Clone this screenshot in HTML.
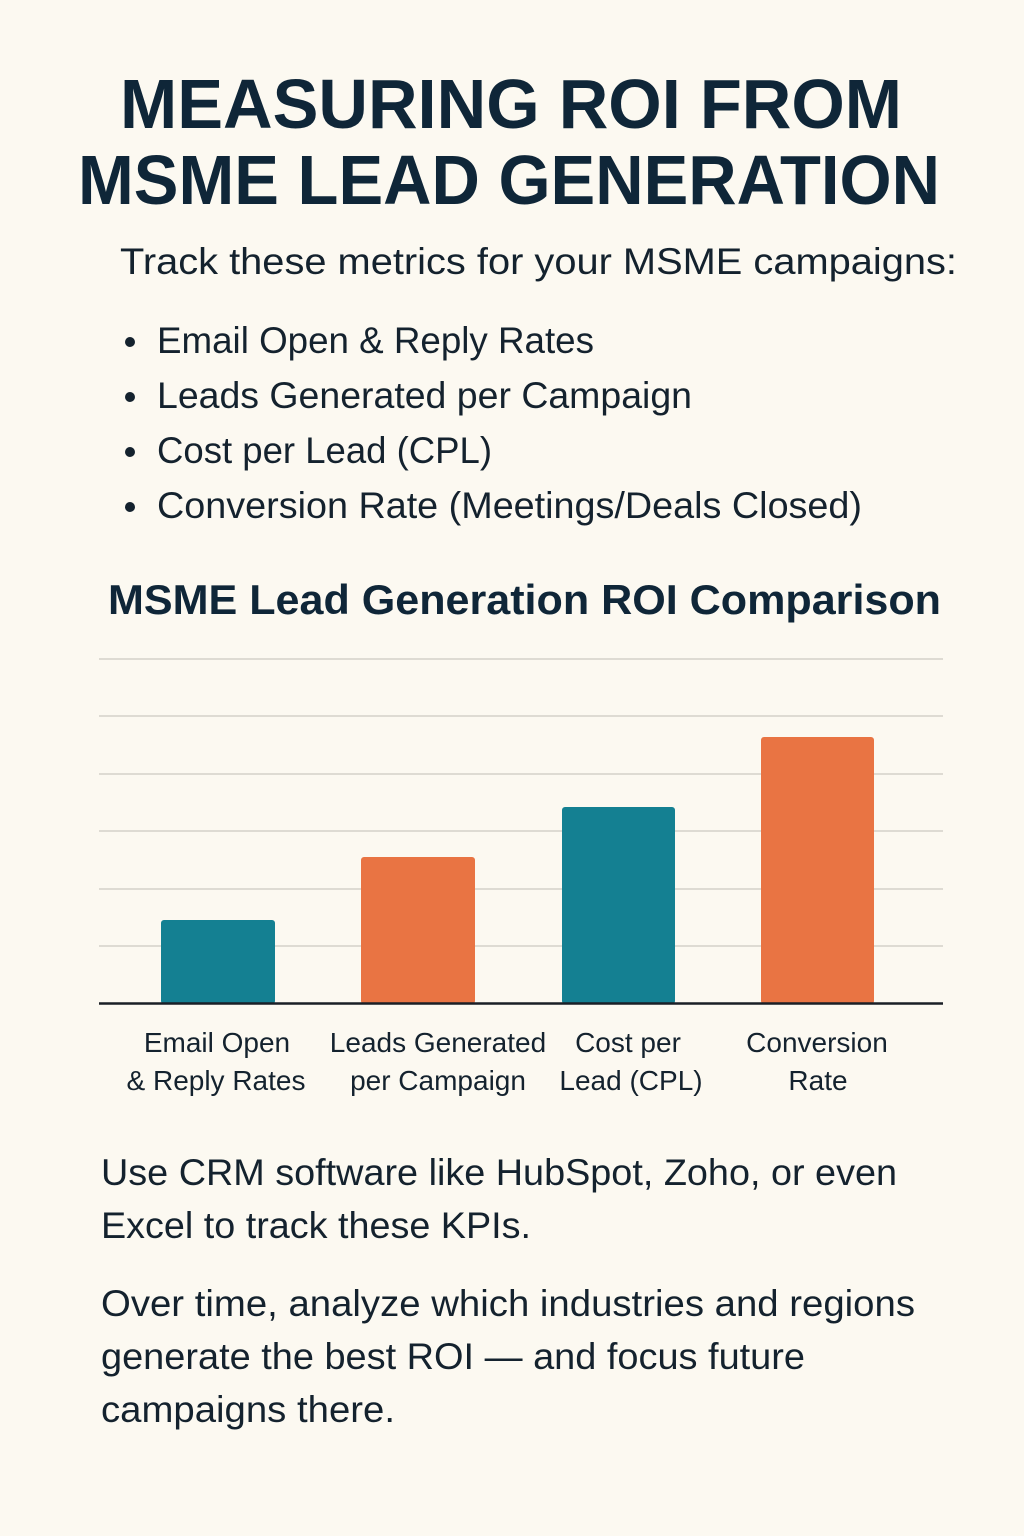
<!DOCTYPE html>
<html><head><meta charset="utf-8"><style>
html,body{margin:0;padding:0;background:#fcf9f1;}
svg{display:block;}
text{font-family:"Liberation Sans","DejaVu Sans",sans-serif;}
</style></head><body>
<svg width="1024" height="1536" viewBox="0 0 1024 1536" xmlns="http://www.w3.org/2000/svg">
<rect width="1024" height="1536" fill="#fcf9f1"/>
<g fill="#0f2638" font-weight="bold" font-size="70">
<text x="120" y="128" textLength="782" lengthAdjust="spacingAndGlyphs">MEASURING ROI FROM</text>
<text x="78" y="204" textLength="862" lengthAdjust="spacingAndGlyphs">MSME LEAD GENERATION</text>
</g>
<g fill="#14222e" font-size="37">
<text x="120" y="274" textLength="837" lengthAdjust="spacingAndGlyphs">Track these metrics for your MSME campaigns:</text>
<circle cx="130" cy="342" r="5"/><text x="157" y="353" textLength="437" lengthAdjust="spacingAndGlyphs">Email Open &amp; Reply Rates</text>
<circle cx="130" cy="397" r="5"/><text x="157" y="408" textLength="535" lengthAdjust="spacingAndGlyphs">Leads Generated per Campaign</text>
<circle cx="130" cy="452" r="5"/><text x="157" y="463" textLength="335" lengthAdjust="spacingAndGlyphs">Cost per Lead (CPL)</text>
<circle cx="130" cy="507" r="5"/><text x="157" y="518" textLength="705" lengthAdjust="spacingAndGlyphs">Conversion Rate (Meetings/Deals Closed)</text>
</g>
<text x="108" y="614" fill="#0f2638" font-weight="bold" font-size="42" textLength="833" lengthAdjust="spacingAndGlyphs">MSME Lead Generation ROI Comparison</text>
<g stroke="#dedbd3" stroke-width="2">
<line x1="99" x2="943" y1="659" y2="659"/><line x1="99" x2="943" y1="716" y2="716"/>
<line x1="99" x2="943" y1="774" y2="774"/><line x1="99" x2="943" y1="831" y2="831"/>
<line x1="99" x2="943" y1="889" y2="889"/><line x1="99" x2="943" y1="946" y2="946"/>
</g>
<rect x="161" y="920" width="114" height="84" rx="3" fill="#148092"/>
<rect x="361" y="857" width="114" height="147" rx="3" fill="#e97443"/>
<rect x="562" y="807" width="113" height="197" rx="3" fill="#148092"/>
<rect x="761" y="737" width="113" height="267" rx="3" fill="#e97443"/>
<line x1="99" x2="943" y1="1003.5" y2="1003.5" stroke="#1a1f26" stroke-width="2.5"/>
<g fill="#14222e" font-size="28" text-anchor="middle">
<text x="217" y="1052">Email Open</text><text x="216" y="1090">&amp; Reply Rates</text>
<text x="438" y="1052">Leads Generated</text><text x="438" y="1090">per Campaign</text>
<text x="628" y="1052">Cost per</text><text x="631" y="1090">Lead (CPL)</text>
<text x="817" y="1052">Conversion</text><text x="818" y="1090">Rate</text>
</g>
<g fill="#14222e" font-size="37">
<text x="101" y="1185" textLength="796" lengthAdjust="spacingAndGlyphs">Use CRM software like HubSpot, Zoho, or even</text>
<text x="101" y="1238" textLength="430" lengthAdjust="spacingAndGlyphs">Excel to track these KPIs.</text>
<text x="101" y="1316" textLength="814" lengthAdjust="spacingAndGlyphs">Over time, analyze which industries and regions</text>
<text x="101" y="1369" textLength="704" lengthAdjust="spacingAndGlyphs">generate the best ROI — and focus future</text>
<text x="101" y="1422" textLength="294" lengthAdjust="spacingAndGlyphs">campaigns there.</text>
</g>
</svg>
</body></html>
